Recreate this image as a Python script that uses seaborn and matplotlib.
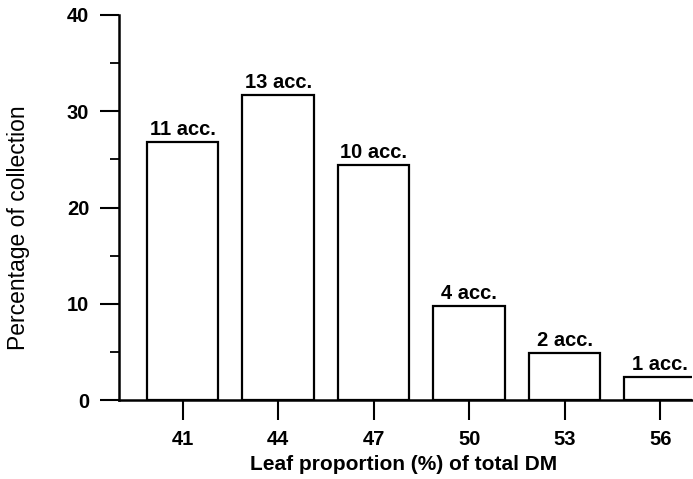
import matplotlib
matplotlib.use("Agg")
import matplotlib.pyplot as plt
from matplotlib.ticker import MultipleLocator
import seaborn as sns

# Leaf proportion classes (% of total DM) and share of the collection in each
leaf_pct = [41, 44, 47, 50, 53, 56]
n_accessions = [11, 13, 10, 4, 2, 1]
pct_collection = [26.8, 31.7, 24.4, 9.8, 4.9, 2.4]
bar_labels = ["11 acc.", "13 acc.", "10 acc.", "4 acc.", "2 acc.", "1 acc."]
y_ticks = [0, 10, 20, 30, 40]

sns.set_theme(style="ticks")
plt.rcParams["font.family"] = ["Liberation Sans", "DejaVu Sans"]
plt.rcParams["text.color"] = "black"
plt.rcParams["axes.labelcolor"] = "black"

fig = plt.figure(figsize=(6.93, 4.79), dpi=100)
ax = fig.add_axes([119 / 693, 79 / 479, 573 / 693, 385 / 479])

sns.barplot(x=leaf_pct, y=pct_collection, native_scale=True, width=0.75,
            color="white", edgecolor="black", linewidth=1.6, ax=ax)
for bar in ax.patches:
    bar.set_facecolor("white")

ax.bar_label(ax.containers[0], labels=bar_labels, padding=2,
             fontsize=14.5, fontweight="bold", color="black")

ax.set_xlim(39, 57)
ax.set_ylim(0, 40)
ax.set_xticks(leaf_pct)
ax.set_xticklabels([str(v) for v in leaf_pct])
ax.set_yticks(y_ticks)
ax.yaxis.set_minor_locator(MultipleLocator(5))

ax.tick_params(axis="y", which="major", length=13.5, width=1.5, pad=8,
               labelsize=14.5, colors="black")
ax.tick_params(axis="y", which="minor", length=6.5, width=1.3, colors="black")
ax.tick_params(axis="x", which="major", length=14.5, width=1.5, pad=7,
               labelsize=14.5, colors="black")
for lbl in ax.get_xticklabels() + ax.get_yticklabels():
    lbl.set_fontweight("bold")

sns.despine(ax=ax, top=True, right=True)
ax.spines["left"].set_linewidth(1.8)
ax.spines["bottom"].set_linewidth(1.8)
ax.spines["left"].set_color("black")
ax.spines["bottom"].set_color("black")

ax.set_xlabel("Leaf proportion (%) of total DM", fontsize=15,
              fontweight="bold", color="black")
ax.xaxis.set_label_coords(0.496, -0.142)
ax.set_ylabel("Percentage of collection", fontsize=16.5, color="black")
ax.yaxis.set_label_coords(-0.155, 0.447)

fig.savefig("out.png", dpi=100, facecolor="white")
